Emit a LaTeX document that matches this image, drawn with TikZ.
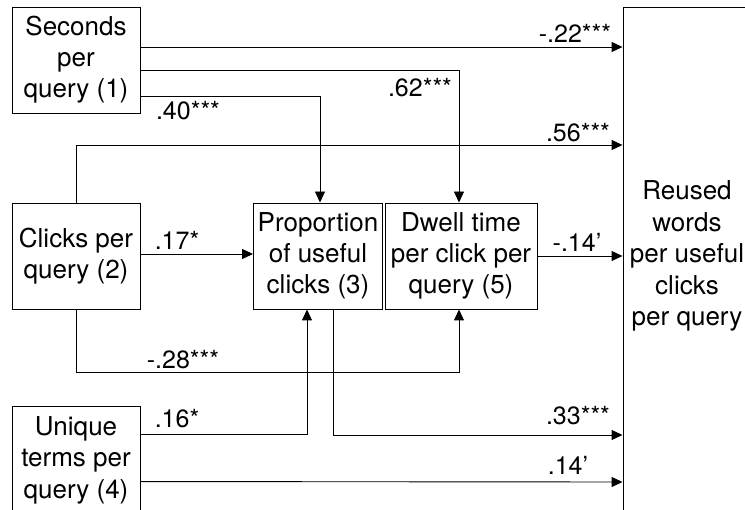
\documentclass[tikz,border=0pt]{standalone}
\usepackage{fontspec}
\setmainfont{TeX Gyre Heros}
\usetikzlibrary{arrows.meta,calc}
\begin{document}
\begin{tikzpicture}[x=1pt,y=-1pt,
  box/.style={draw,line width=0.9pt,inner sep=0pt,align=center,font=\fontsize{26}{31}\selectfont},
  txt/.style={inner sep=0pt,align=center,font=\fontsize{26}{31.5}\selectfont},
  lbl/.style={anchor=base,inner sep=0pt,font=\fontsize{25}{29}\selectfont},
  conn/.style={line width=0.9pt},
  arr/.style={line width=0.9pt,-{Triangle[length=11pt,width=10pt]}}]
\useasboundingbox (0,0) rectangle (745,510);
% boxes
\node[box,minimum width=128pt,minimum height=106pt] (b1) at (76,60) {Seconds\\per\\query (1)};
\node[box,minimum width=128pt,minimum height=106pt] (b2) at (76,256) {Clicks per\\query (2)};
\node[box,minimum width=129pt,minimum height=106pt] (b3) at (318,256) {Proportion\\of useful\\clicks (3)};
\node[box,minimum width=152pt,minimum height=106pt] (b5) at (461,256) {Dwell time\\per click per\\query (5)};
\node[box,minimum width=128pt,minimum height=154pt] (b4) at (76,483) {};
\node[txt] (t4) at (76,460) {Unique\\terms per\\query (4)};
\node[box,minimum width=177pt,minimum height=553pt] (R) at (711.5,283.5) {};
\node[txt] (tR) at (687,256) {Reused\\words\\per useful\\clicks\\per query};
% connectors
\draw[arr] (b1.east |- 0,47) -- (R.west |- 0,47);
\draw[arr] (b1.east |- 0,70) -| ($(b5.north)+(-2,0)$);
\draw[arr] (b1.east |- 0,96) -| ($(b3.north)+(2,0)$);
\draw[arr] (b2.north) |- (R.west |- 0,145);
\draw[arr] (b2.east |- 0,254) -- (b3.west |- 0,254);
\draw[arr] (b5.east) -- (R.west |- b5.east);
\draw[arr] (b2.south) -- ++(0,63) -| ($(b5.south)+(-2,0)$);
\draw[arr] (b4.north east) ++(0,29) -| ($(b3.south)+(-11,0)$);
\draw[arr] ($(b3.south)+(15,0)$) |- (R.west |- 0,435);
\draw[arr] (b4.north east) ++(0,76) -- (R.west |- 0,482);
% labels
\node[lbl] (l1) at (575,43) {-.22***};
\node[lbl] (l2) at (420,97) {.62***};
\node[lbl] (l3) at (188,120) {.40***};
\node[lbl] (l4) at (578,142) {.56***};
\node[lbl] (l5) at (177,250) {.17*};
\node[lbl] (l6) at (577,252) {-.14’};
\node[lbl] (l7) at (183,369) {-.28***};
\node[lbl] (l8) at (177,428) {.16*};
\node[lbl] (l9) at (578,425) {.33***};
\node[lbl] (l10) at (568,475) {.14’};
\end{tikzpicture}
\end{document}
